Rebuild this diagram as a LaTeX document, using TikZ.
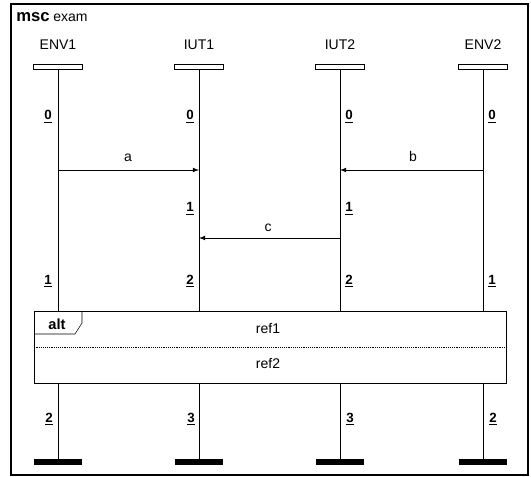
\documentclass[tikz,border=0pt]{standalone}
\usepackage{fontspec}
\setmainfont{Liberation Sans}
\newcommand{\mscNum}[1]{\underline{\textbf{#1}}}

\begin{document}
\begin{tikzpicture}[x=0.75pt,y=-0.75pt,
  insthead/.style={draw, inner sep=0pt, minimum width=36.75pt, minimum height=3.75pt},
  stopbar/.style={fill=black, inner sep=0pt, minimum width=36pt, minimum height=4.5pt},
  numlbl/.style={anchor=base, inner sep=0pt, font=\fontsize{10}{11}\selectfont},
  txt/.style={inner sep=0pt, font=\fontsize{10.5}{12}\selectfont},
  msg/.style={-latex, line width=0.6pt}]
\useasboundingbox (0,0) rectangle (531,477);
\draw[line width=0.8pt] (11,4) rectangle (528,475);
\node[anchor=base west, inner sep=0pt] (title) at (16,22) {{\fontsize{12.5}{14}\selectfont\bfseries msc} {\fontsize{10.5}{12}\selectfont exam}};
\node[txt] (env1t) at (58,45) {ENV1};
\node[txt] (iut1t) at (199,45) {IUT1};
\node[txt] (iut2t) at (340,45) {IUT2};
\node[txt] (env2t) at (483,45) {ENV2};
\node[insthead] (env1h) at (58,66.5) {};
\node[insthead] (iut1h) at (199,66.5) {};
\node[insthead] (iut2h) at (340,66.5) {};
\node[insthead] (env2h) at (483,66.5) {};
\node[draw, inner sep=0pt, minimum width=354pt, minimum height=54pt] (alt) at (270,347) {};
\draw[densely dotted] (alt.west) -- (alt.east);
\draw (82,311) -- (82,323) -- (75,334) -- (34,334);
\node[inner sep=0pt, font=\fontsize{11}{12}\selectfont\bfseries] (altlbl) at (57,324) {alt};
\node[txt] (ref1) at (268,329) {ref1};
\node[txt] (ref2) at (268,364) {ref2};
\node[stopbar] (env1e) at (58,462) {};
\node[stopbar] (iut1e) at (199,462) {};
\node[stopbar] (iut2e) at (340,462) {};
\node[stopbar] (env2e) at (483,462) {};
\foreach \i in {env1,iut1,iut2,env2}{
  \draw (\i h.south) -- (\i h.south |- alt.north);
  \draw (\i e.north |- alt.south) -- (\i e.north);
}
\coordinate (a0) at (58,170);
\coordinate (a1) at (199,170);
\coordinate (b0) at (483,170);
\coordinate (b1) at (340,170);
\coordinate (c0) at (340,238);
\coordinate (c1) at (199,238);
\draw[msg] (a0) -- (a1);
\draw[msg] (b0) -- (b1);
\draw[msg] (c0) -- (c1);
\node[txt, anchor=base] (albl) at (128,162) {a};
\node[txt, anchor=base] (blbl) at (413,162) {b};
\node[txt, anchor=base] (clbl) at (268,232) {c};
\node[numlbl] (env1n0) at (48,120) {\mscNum{0}};
\node[numlbl] (iut1n0) at (190,120) {\mscNum{0}};
\node[numlbl] (iut2n0) at (349,120) {\mscNum{0}};
\node[numlbl] (env2n0) at (492,120) {\mscNum{0}};
\node[numlbl] (iut1n1) at (190,212) {\mscNum{1}};
\node[numlbl] (iut2n1) at (349,212) {\mscNum{1}};
\node[numlbl] (env1n1) at (48,284) {\mscNum{1}};
\node[numlbl] (iut1n2) at (190,284) {\mscNum{2}};
\node[numlbl] (iut2n2) at (349,284) {\mscNum{2}};
\node[numlbl] (env2n1) at (492,284) {\mscNum{1}};
\node[numlbl] (env1n2) at (49,422) {\mscNum{2}};
\node[numlbl] (iut1n3) at (191,422) {\mscNum{3}};
\node[numlbl] (iut2n3) at (350,422) {\mscNum{3}};
\node[numlbl] (env2n2) at (493,422) {\mscNum{2}};
\end{tikzpicture}
\end{document}
